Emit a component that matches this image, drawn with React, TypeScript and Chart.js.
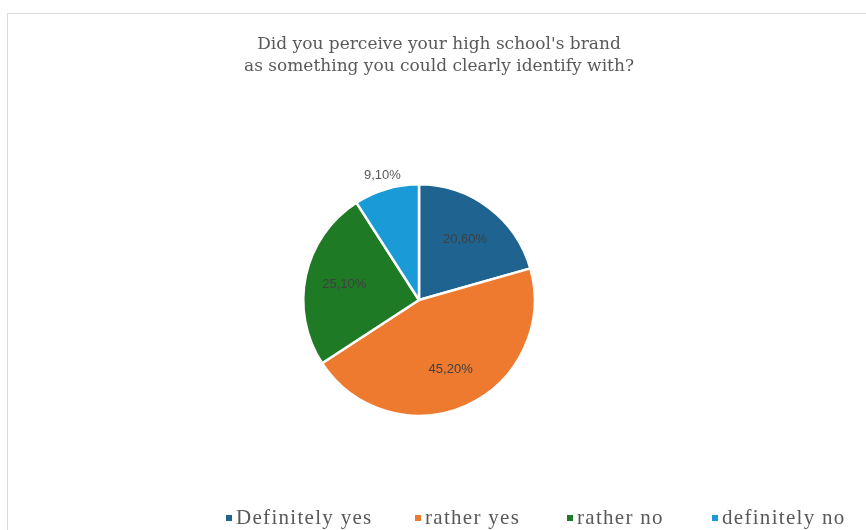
import React, { useEffect, useRef } from "react";
import { Chart, registerables } from "chart.js";

Chart.register(...registerables);

const titleLines = ["Did you perceive your high school's brand", "as something you could clearly identify with?"];
const categories = ["Definitely yes", "rather yes", "rather no", "definitely no"];
const values = [20.6, 45.2, 25.1, 9.1];
const valueLabels = ["20,60%", "45,20%", "25,10%", "9,10%"];
const colors = ["#1F6391", "#EE7A30", "#1F7A26", "#1A9BD7"];
const labelInside = [true, true, true, false];
const legendX = [229, 418, 570, 715];

const decor = {
  id: "decor",
  beforeDraw(chart: any) {
    const ctx = chart.ctx;
    ctx.save();
    ctx.fillStyle = "#ffffff";
    ctx.fillRect(0, 0, chart.width, chart.height);
    ctx.strokeStyle = "#d9d9d9";
    ctx.lineWidth = 1;
    ctx.strokeRect(7.5, 13.5, chart.width + 10, chart.height + 10);
    ctx.restore();
  },
  afterDraw(chart: any) {
    const ctx = chart.ctx;
    ctx.save();
    // title
    ctx.fillStyle = "#595959";
    ctx.font = "17px 'DejaVu Serif'";
    ctx.textAlign = "center";
    ctx.textBaseline = "middle";
    titleLines.forEach((t, i) => ctx.fillText(t, 439, 45 + i * 22));
    // data labels
    const meta = chart.getDatasetMeta(0);
    meta.data.forEach((arc: any, i: number) => {
      const p = arc.getProps(["x", "y", "startAngle", "endAngle", "outerRadius"], true);
      const mid = (p.startAngle + p.endAngle) / 2;
      const r = labelInside[i] ? p.outerRadius * 0.66 : p.outerRadius + 14;
      const x = p.x + Math.cos(mid) * r;
      const y = p.y + Math.sin(mid) * r;
      ctx.font = "13px 'Liberation Sans'";
      ctx.fillStyle = labelInside[i] ? "#404040" : "#595959";
      ctx.textAlign = "center";
      ctx.textBaseline = "middle";
      ctx.fillText(valueLabels[i], x, y);
    });
    // legend
    ctx.font = "21px 'Liberation Serif'";
    (ctx as any).letterSpacing = "1.3px";
    ctx.textAlign = "left";
    ctx.textBaseline = "alphabetic";
    categories.forEach((c, i) => {
      ctx.fillStyle = colors[i];
      ctx.fillRect(legendX[i] - 3, 515, 6, 6);
      ctx.fillStyle = "#595959";
      ctx.fillText(c, legendX[i] + 7, 524);
    });
    ctx.restore();
  },
};

export default function App() {
  const ref = useRef<HTMLCanvasElement>(null);
  useEffect(() => {
    if (!ref.current) return;
    const chart = new Chart(ref.current, {
      type: "pie",
      data: {
        labels: categories,
        datasets: [
          {
            data: values,
            backgroundColor: colors,
            borderColor: "#ffffff",
            borderWidth: 2.5,
          },
        ],
      },
      options: {
        responsive: false,
        animation: false,
        layout: { padding: { top: 183, bottom: 113, left: 302, right: 330 } },
        plugins: {
          legend: { display: false },
          title: { display: false },
          tooltip: { enabled: false },
        },
      },
      plugins: [decor],
    });
    return () => chart.destroy();
  }, []);
  return (
    <div style={{ position: "fixed", left: 0, top: 0, width: 866, height: 530 }}>
      <canvas ref={ref} width={866} height={530} style={{ width: 866, height: 530 }} />
    </div>
  );
}
